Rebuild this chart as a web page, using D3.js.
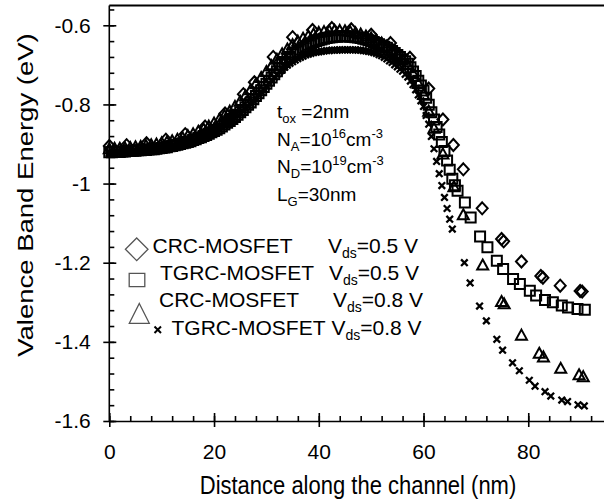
<!DOCTYPE html>
<html><head><meta charset="utf-8">
<script src="https://cdn.jsdelivr.net/npm/d3@7"></script>
<style>body{margin:0;background:#fff} text{font-family:"Liberation Sans",Arial,sans-serif;fill:#000}</style>
</head><body><svg id="c" width="604" height="501"></svg>
<script>
// ---------- data ----------
const xTickValues=[0,20,40,60,80];
const yTickValues=[-0.6,-0.8,-1,-1.2,-1.4,-1.6];

// CRC-MOSFET Vds=0.5 V (diamonds)
const crc05X=[0,3.3,7.1,10.8,14.5,18.3,22.1,25.6,27.7,31.3,35.0,38.8,42.5,46.2,50.0,53.7,57.4,61.0,63.7,65.7,67.6,71.2,74.9,75.3,78.7,82.4,82.8,86.1,89.9,90.3];
const crc05V=[-0.905,-0.903,-0.898,-0.889,-0.875,-0.856,-0.823,-0.774,-0.744,-0.680,-0.630,-0.612,-0.607,-0.610,-0.624,-0.645,-0.682,-0.760,-0.838,-0.9025,-0.964,-1.0625,-1.140,-1.146,-1.197,-1.2335,-1.238,-1.258,-1.2715,-1.273];

// TGRC-MOSFET Vds=0.5 V (squares)
const tgrc05X=[0,0.5,1,1.5,2,2.5,3,3.5,4,4.5,5,5.5,6,6.5,7,7.5,8,8.5,9,9.5,10,10.5,11,11.5,12,12.5,13,13.5,14,14.5,15,15.5,16,16.5,17,17.5,18,18.5,19,19.5,20,20.5,21,21.5,22,22.5,23,23.5,24,24.5,25,25.5,26,26.5,27,27.5,28,28.5,29,29.5,30,30.5,31,31.5,32,32.5,33,33.5,34,34.5,35,35.5,36,36.5,37,37.5,38,38.5,39,39.5,40,40.5,41,41.5,42,42.5,43,43.5,44,44.5,45,45.5,46,46.5,47,47.5,48,48.5,49,49.5,50,50.5,51,51.5,52,52.5,53,53.5,54,54.5,55,55.5,56,56.5,57,57.5,58,58.5,59,59.5,60,60.5,61,61.5,62,62.5,63,63.5,64,64.5,65,65.5,66,66.5,67.9,69.0,70.8,72.2,74.0,75.2,77.1,78.4,80.3,81.5,83.2,84.7,86.4,87.6,89.4,90.8];
const tgrc05V=[-0.921,-0.921,-0.920,-0.920,-0.920,-0.919,-0.919,-0.918,-0.918,-0.917,-0.917,-0.916,-0.916,-0.915,-0.915,-0.914,-0.913,-0.913,-0.912,-0.911,-0.910,-0.909,-0.908,-0.906,-0.905,-0.903,-0.902,-0.900,-0.898,-0.897,-0.895,-0.893,-0.890,-0.888,-0.885,-0.883,-0.880,-0.877,-0.874,-0.870,-0.867,-0.864,-0.860,-0.856,-0.851,-0.846,-0.842,-0.837,-0.832,-0.826,-0.820,-0.814,-0.807,-0.801,-0.795,-0.787,-0.779,-0.772,-0.764,-0.756,-0.748,-0.740,-0.732,-0.724,-0.716,-0.708,-0.700,-0.693,-0.686,-0.680,-0.673,-0.669,-0.666,-0.661,-0.657,-0.653,-0.649,-0.646,-0.643,-0.640,-0.638,-0.636,-0.634,-0.632,-0.631,-0.630,-0.629,-0.629,-0.628,-0.628,-0.628,-0.628,-0.629,-0.629,-0.630,-0.631,-0.632,-0.634,-0.636,-0.638,-0.640,-0.642,-0.645,-0.648,-0.651,-0.654,-0.657,-0.661,-0.665,-0.670,-0.675,-0.680,-0.686,-0.691,-0.697,-0.706,-0.717,-0.728,-0.740,-0.752,-0.765,-0.783,-0.801,-0.820,-0.838,-0.857,-0.876,-0.895,-0.918,-0.942,-0.965,-0.988,-1.004,-1.018,-1.048,-1.086,-1.134,-1.161,-1.195,-1.216,-1.241,-1.254,-1.271,-1.283,-1.294,-1.300,-1.308,-1.313,-1.317,-1.319];

// CRC-MOSFET Vds=0.8 V (triangles)
const crc08X=[0,1,2,3,4,5,6,7,8,9,10,11,12,13,14,15,16,17,18,19,20,21,22,23,24,25,26,27,28,29,30,31,32,33,34,35,36,37,38,39,40,41,42,43,44,45,46,47,48,49,50,51,52,53,54,55,56,57,58,59,60,61,62,63.7,65.8,67.6,71.3,74.9,75.4,78.7,82.1,82.9,86.2,89.7,90.5];
const crc08V=[-0.912,-0.911,-0.911,-0.910,-0.909,-0.907,-0.906,-0.904,-0.902,-0.900,-0.897,-0.895,-0.892,-0.888,-0.884,-0.879,-0.874,-0.868,-0.862,-0.855,-0.847,-0.838,-0.828,-0.817,-0.805,-0.792,-0.778,-0.763,-0.748,-0.732,-0.717,-0.702,-0.686,-0.672,-0.660,-0.649,-0.640,-0.633,-0.627,-0.622,-0.618,-0.616,-0.614,-0.613,-0.613,-0.614,-0.616,-0.619,-0.622,-0.627,-0.632,-0.638,-0.645,-0.653,-0.662,-0.674,-0.686,-0.700,-0.722,-0.747,-0.775,-0.817,-0.860,-0.925,-1.008,-1.079,-1.206,-1.298,-1.304,-1.383,-1.429,-1.438,-1.467,-1.483,-1.488];

// TGRC-MOSFET Vds=0.8 V (crosses)
const tgrc08X=[0,0.5,1,1.5,2,2.5,3,3.5,4,4.5,5,5.5,6,6.5,7,7.5,8,8.5,9,9.5,10,10.5,11,11.5,12,12.5,13,13.5,14,14.5,15,15.5,16,16.5,17,17.5,18,18.5,19,19.5,20,20.5,21,21.5,22,22.5,23,23.5,24,24.5,25,25.5,26,26.5,27,27.5,28,28.5,29,29.5,30,30.5,31,31.5,32,32.5,33,33.5,34,34.5,35,35.5,36,36.5,37,37.5,38,38.5,39,39.5,40,40.5,41,41.5,42,42.5,43,43.5,44,44.5,45,45.5,46,46.5,47,47.5,48,48.5,49,49.5,50,50.5,51,51.5,52,52.5,53,53.5,54,54.5,55,55.5,56,56.5,57,57.5,58,58.5,59,59.5,60,60.5,61,61.5,62,62.5,63,63.5,64,64.5,65,65.5,67.8,68.9,70.7,72.0,74.0,75.1,77.0,78.3,80.2,81.3,83.2,84.3,86.4,87.5,89.5,90.7];
const tgrc08V=[-0.923,-0.923,-0.922,-0.922,-0.922,-0.921,-0.921,-0.921,-0.920,-0.920,-0.919,-0.919,-0.918,-0.917,-0.917,-0.916,-0.915,-0.915,-0.914,-0.913,-0.912,-0.911,-0.910,-0.908,-0.907,-0.905,-0.904,-0.902,-0.900,-0.899,-0.897,-0.895,-0.892,-0.890,-0.887,-0.885,-0.882,-0.879,-0.876,-0.872,-0.869,-0.866,-0.862,-0.858,-0.853,-0.849,-0.844,-0.840,-0.835,-0.829,-0.823,-0.817,-0.811,-0.805,-0.799,-0.791,-0.784,-0.776,-0.768,-0.761,-0.753,-0.745,-0.738,-0.731,-0.724,-0.718,-0.712,-0.706,-0.701,-0.696,-0.692,-0.688,-0.684,-0.681,-0.678,-0.675,-0.673,-0.671,-0.669,-0.668,-0.667,-0.666,-0.665,-0.664,-0.664,-0.663,-0.663,-0.663,-0.662,-0.662,-0.662,-0.662,-0.662,-0.662,-0.662,-0.663,-0.663,-0.664,-0.665,-0.666,-0.667,-0.669,-0.671,-0.674,-0.677,-0.681,-0.685,-0.690,-0.694,-0.700,-0.705,-0.711,-0.716,-0.724,-0.731,-0.741,-0.750,-0.763,-0.776,-0.791,-0.805,-0.828,-0.850,-0.881,-0.912,-0.944,-0.975,-1.005,-1.035,-1.063,-1.090,-1.115,-1.200,-1.251,-1.3095,-1.347,-1.3935,-1.421,-1.453,-1.473,-1.497,-1.512,-1.526,-1.537,-1.547,-1.551,-1.559,-1.562];

const legendNames=["CRC-MOSFET","TGRC-MOSFET","CRC-MOSFET","TGRC-MOSFET"];
const legendVds=["0.5","0.5","0.8","0.8"];

// ---------- chart ----------
const svg=d3.select("#c");
const x=d3.scaleLinear().domain([0,100]).range([109.3,633]);
const y=d3.scaleLinear().domain([-1.6,-0.55]).range([421,5.5]);
const FS=21;

svg.append("line").attr("x1",x(0)).attr("x2",604).attr("y1",y(-0.55)).attr("y2",y(-0.55))
  .attr("stroke","#000").attr("stroke-width",2);

const xMinor=d3.range(0,96,4), yMinor=d3.range(-1.6,-0.555,0.04);
function styleAxis(g){g.selectAll("path,line").attr("stroke","#000").attr("stroke-width",1.6);}

const gx=svg.append("g").attr("transform",`translate(0,${y(-1.6)})`);
gx.call(d3.axisBottom(x).tickValues(xTickValues).tickSize(6).tickSizeOuter(0).tickFormat(d=>String(d)));
gx.selectAll("text").attr("y",38).attr("dy",null).style("font-size",FS+"px");
styleAxis(gx);
const gx2=svg.append("g").attr("transform",`translate(0,${y(-1.6)})`);
gx2.call(d3.axisBottom(x).tickValues(xMinor).tickSize(-5).tickFormat(""));
gx2.select(".domain").remove(); styleAxis(gx2);
const gx3=svg.append("g").attr("transform",`translate(0,${y(-1.6)})`);
gx3.call(d3.axisBottom(x).tickValues(xTickValues).tickSize(-8).tickFormat(""));
gx3.select(".domain").remove(); styleAxis(gx3);

const gy=svg.append("g").attr("transform",`translate(${x(0)},0)`);
gy.call(d3.axisLeft(y).tickValues(yTickValues).tickSize(6).tickSizeOuter(0).tickFormat(d=>String(d)));
gy.selectAll("text").attr("x",-18.5).style("font-size",FS+"px");
styleAxis(gy);
const gy2=svg.append("g").attr("transform",`translate(${x(0)},0)`);
gy2.call(d3.axisLeft(y).tickValues(yMinor).tickSize(-5).tickFormat(""));
gy2.select(".domain").remove(); styleAxis(gy2);
const gy3=svg.append("g").attr("transform",`translate(${x(0)},0)`);
gy3.call(d3.axisLeft(y).tickValues(yTickValues).tickSize(-7).tickFormat(""));
gy3.select(".domain").remove(); styleAxis(gy3);
gy.select(".domain").attr("d",`M0,${y(-0.55)}V${y(-1.6)}`);

svg.append("text").attr("transform","translate(358,494) scale(1,1.2)").attr("text-anchor","middle")
  .style("font-size","22px").text("Distance along the channel (nm)");
svg.append("text").attr("transform","translate(33,195) rotate(-90) scale(1.25,1)").attr("text-anchor","middle")
  .style("font-size","22px").text("Valence Band Energy (eV)");

const shapes={
  diamond:"M0,-6L5.5,0L0,6L-5.5,0Z",
  square:"M-5,-5H5V5H-5Z",
  triangle:"M0,-5.5L5.5,4.5L-5.5,4.5Z",
  cross:"M-3.3,-3.3L3.3,3.3M3.3,-3.3L-3.3,3.3"
};
function plot(xs,vs,shape,sw){
  svg.append("g").selectAll("path").data(xs.map((d,i)=>[d,vs[i]])).join("path")
    .attr("transform",d=>`translate(${x(d[0])},${y(d[1])})`)
    .attr("d",shapes[shape]).attr("fill","none").attr("stroke","#000").attr("stroke-width",sw);
}
plot(crc05X,crc05V,"diamond",2);
plot(tgrc05X,tgrc05V,"square",2);
plot(crc08X,crc08V,"triangle",2);
plot(tgrc08X,tgrc08V,"cross",2.3);

function rich(xp,yp,parts,fs,sfs){
  const t=svg.append("text").attr("x",xp).attr("y",yp).style("font-size",fs+"px");
  let cur=0;
  parts.forEach(p=>{
    const [s,k]=p; const target=k==="sub"?5:k==="sup"?-8:0;
    t.append("tspan").attr("dy",target-cur).style("font-size",(k?sfs:fs)+"px").text(s);
    cur=target;
  });
  return t;
}
rich(277,118,[["t"],["ox","sub"],[" =2nm"]],19,13);
rich(277,146,[["N"],["A","sub"],["=10"],["16","sup"],["cm"],["-3","sup"]],19,13);
rich(277,173,[["N"],["D","sub"],["=10"],["19","sup"],["cm"],["-3","sup"]],19,13);
rich(277,201,[["L"],["G","sub"],["=30nm"]],19,13);

const lgY=[253,280,307,335];
const lgNameX=[152.5,160,159,171.5];
const lgVX=[328,329,333,331.5];
legendNames.forEach((n,i)=>{
  svg.append("text").attr("x",lgNameX[i]).attr("y",lgY[i]).style("font-size",FS+"px").text(n);
  rich(lgVX[i],lgY[i],[["V"],["ds","sub"],["="+legendVds[i]+" V"]],FS,14);
});
const lg=svg.append("g").attr("fill","none").attr("stroke","#555").attr("stroke-width",1.3);
lg.append("path").attr("d","M136.7,238L148,249.3L136.7,260.6L125.4,249.3Z");
lg.append("path").attr("d","M129.2,273.4H144.8V286.6H129.2Z");
lg.append("path").attr("d","M139.3,303.5L149.3,323.3L129.3,323.3Z");
svg.append("path").attr("d","M154.5,326.5L161,333M161,326.5L154.5,333").attr("stroke","#000").attr("stroke-width",2);
</script></body></html>
